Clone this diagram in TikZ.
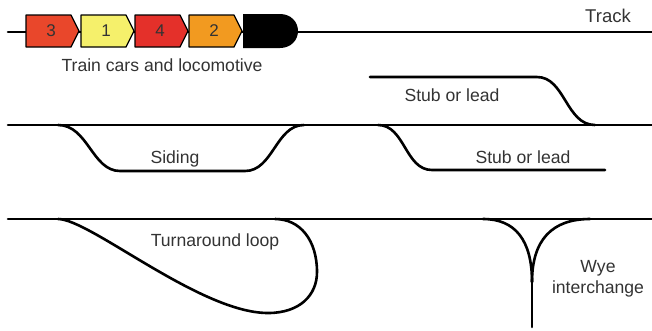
\documentclass[tikz,border=0pt]{standalone}
\usepackage{fontspec}
\setmainfont{Liberation Sans}
\begin{document}
\begin{tikzpicture}[x=1pt,y=-1pt,
  rail/.style={line width=2.6pt,black,line cap=round,line join=round},
  carbody/.style={draw=black,line width=1.3pt,line join=round},
  label/.style={text=black!80,font=\fontsize{17.6}{20}\selectfont,inner sep=0pt},
  num/.style={text=black!80,font=\fontsize{17}{20}\selectfont,inner sep=0pt}]
\definecolor{carA}{HTML}{E9472B}
\definecolor{carB}{HTML}{F5F06B}
\definecolor{carC}{HTML}{E4302A}
\definecolor{carD}{HTML}{F29A20}
\useasboundingbox (0,0) rectangle (652,330);

% main tracks
\draw[rail] (8,32) -- (652,32);
\draw[rail] (8,125) -- (652,125);
\draw[rail] (8,219) -- (652,219);

% train cars: pentagons pointing right
\foreach \x/\c/\n [count=\i] in {26/carA/3, 81/carB/1, 135/carC/4, 189/carD/2}{
  \draw[carbody,fill=\c] (\x,15) -- (\x+45,15) -- (\x+53,31) -- (\x+45,47) -- (\x,47) -- cycle;
  \node[num] (car\i) at (\x+25,31) {\n};
}
% locomotive
\fill[black] (243,14) -- (280,14) .. controls (291,14) and (298,22) .. (298,31)
  .. controls (298,40) and (291,48) .. (280,48) -- (243,48) -- cycle;

\node[label] (train) at (162,65) {Train cars and locomotive};
\node[label,font=\fontsize{18.5}{21}\selectfont] (track) at (608,16) {Track};

% siding
\draw[rail] (58,125) .. controls (88,125) and (92,171) .. (120,171) -- (245,171)
  .. controls (273,171) and (276,125) .. (304,125);
\node[label] (siding) at (175,159) {Siding};

% upper stub
\draw[rail] (370,77) -- (537,77) .. controls (565,77) and (566,125) .. (595,125);
\node[label] (stubA) at (452,95) {Stub or lead};

% lower stub
\draw[rail] (378,125) .. controls (405,125) and (405,170) .. (432,170) -- (605,170);
\node[label] (stubB) at (523,157) {Stub or lead};

% turnaround loop
\draw[rail] (58,219) .. controls (90,219) and (200,313) .. (268,313)
  .. controls (300,313) and (317,295) .. (317,272)
  .. controls (317,240) and (300,219) .. (275,219);
\node[label] (loop) at (215,242) {Turnaround loop};

% wye
\draw[rail] (483,219) .. controls (515,219) and (532,240) .. (532,282);
\draw[rail] (590,219) .. controls (552,219) and (532,240) .. (532,282);
\draw[rail] (532,280) -- (532,327);
\node[label] (wye) at (598,268) {Wye};
\node[label] (inter) at (598,289) {interchange};
\end{tikzpicture}
\end{document}
